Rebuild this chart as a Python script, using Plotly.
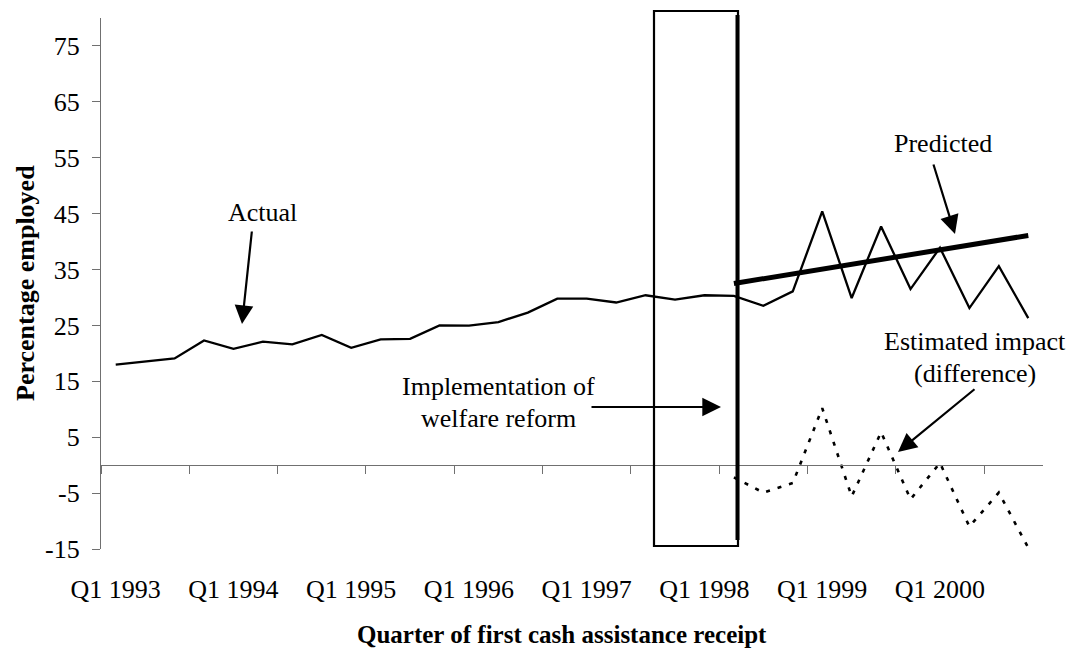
import plotly.graph_objects as go

# ---- data ----
quarters = [f"Q{q} {y}" for y in range(1993, 2001) for q in range(1, 5)]
actual = [18.0, 18.5, 19.1, 22.3, 20.8, 22.1, 21.6, 23.3, 21.0, 22.5, 22.6, 25.0,
          24.95, 25.6, 27.3, 29.8, 29.8, 29.1, 30.4, 29.6, 30.4, 30.3, 28.5, 31.1,
          45.4, 29.9, 42.7, 31.5, 38.9, 28.1, 35.6, 26.3]
pred_idx = [21, 31]
predicted = [32.5, 41.1]
diff_idx = list(range(21, 32))
difference = [-2.2, -4.9, -3.2, 10.2, -5.6, 5.9, -6.1, 0.4, -11.0, -4.9, -14.8]
label_idx = [0, 4, 8, 12, 16, 20, 24, 28]
label_text = ["Q1 1993", "Q1 1994", "Q1 1995", "Q1 1996", "Q1 1997", "Q1 1998", "Q1 1999", "Q1 2000"]
y_ticks = [-15, -5, 5, 15, 25, 35, 45, 55, 65, 75]

FONT = "Times New Roman, Liberation Serif, serif"
FS = 26
W, H = 1070, 649
ML, MR, MT, MB = 101, 27, 18, 100
YMIN, YMAX = -15, 80
XMIN, XMAX = -0.5, 31.5

def py2paper(py):
    return (H - MB - py) / (H - MT - MB)

def px2paper(px):
    return (px - ML) / (W - ML - MR)

def px2x(px):
    return XMIN + px2paper(px) * (XMAX - XMIN)

def py2y(py):
    return YMIN + py2paper(py) * (YMAX - YMIN)

xs = list(range(len(actual)))

fig = go.Figure()
fig.add_trace(go.Scatter(x=xs, y=actual, mode="lines",
                         line=dict(color="black", width=2.3), hoverinfo="skip"))
fig.add_trace(go.Scatter(x=pred_idx, y=predicted, mode="lines",
                         line=dict(color="black", width=5), hoverinfo="skip"))
fig.add_trace(go.Scatter(x=diff_idx, y=difference, mode="lines",
                         line=dict(color="black", width=2.6, dash="4px,8px"), hoverinfo="skip"))
# invisible trace for label axis
fig.add_trace(go.Scatter(x=[0], y=[0], xaxis="x2", mode="markers",
                         marker=dict(opacity=0), hoverinfo="skip"))

axis_color = "#707070"
fig.update_layout(
    width=W, height=H,
    margin=dict(l=ML, r=MR, t=MT, b=MB),
    paper_bgcolor="white", plot_bgcolor="white",
    showlegend=False,
    font=dict(family=FONT, size=FS, color="black"),
    xaxis=dict(range=[XMIN, XMAX], anchor="free", position=py2paper(465.2),
               showgrid=False, zeroline=False, showline=True, linecolor=axis_color, linewidth=1.3,
               ticks="outside", ticklen=8, tickcolor=axis_color, tickwidth=1.3,
               tickvals=[-0.5 + 3 * k for k in range(11)], showticklabels=False),
    xaxis2=dict(range=[XMIN, XMAX], overlaying="x", anchor="y", side="bottom",
                showgrid=False, zeroline=False, showline=False, ticks="",
                tickvals=label_idx, ticktext=label_text, ticklabelstandoff=22,
                tickfont=dict(family=FONT, size=FS, color="black")),
    yaxis=dict(range=[YMIN, YMAX], showgrid=False, zeroline=False,
               showline=True, linecolor=axis_color, linewidth=1.3,
               ticks="outside", ticklen=8, tickcolor=axis_color, tickwidth=1.3,
               tickvals=y_ticks, ticktext=[str(v) for v in y_ticks], ticklabelstandoff=7,
               tickfont=dict(family=FONT, size=FS, color="black")),
)

# box around implementation period and vertical reform line
fig.add_shape(type="rect", xref="x", yref="paper",
              x0=px2x(654), x1=px2x(738), y0=py2paper(546), y1=py2paper(11),
              line=dict(color="black", width=2.2), fillcolor="rgba(0,0,0,0)")
fig.add_shape(type="line", xref="x", yref="paper",
              x0=px2x(737.5), x1=px2x(737.5), y0=py2paper(540), y1=py2paper(15),
              line=dict(color="black", width=4))

def text(px, py, s, bold=False, angle=0, size=FS):
    fig.add_annotation(x=px2paper(px), y=py2paper(py), xref="paper", yref="paper",
                       text=f"<b>{s}</b>" if bold else s,
                       showarrow=False, textangle=angle, xanchor="center", yanchor="middle",
                       font=dict(family=FONT, size=size, color="black"))

def arrow(tx, ty, hx, hy):
    fig.add_annotation(x=px2x(hx), y=py2y(hy), ax=px2x(tx), ay=py2y(ty),
                       xref="x", yref="y", axref="x", ayref="y", text="",
                       showarrow=True, arrowhead=2, arrowsize=1.7, arrowwidth=2.2,
                       arrowcolor="black", standoff=0)

text(262, 213, "Actual")
arrow(252, 230, 242, 324)
text(943, 143, "Predicted")
arrow(933, 163, 955, 234)
text(975, 342, "Estimated impact")
text(975, 373, "(difference)")
arrow(976, 388, 898, 452)
text(498, 387, "Implementation of")
text(498, 418, "welfare reform")
arrow(590, 407, 721, 407)

text(25, 283, "Percentage employed", bold=True, angle=-90)
text(562, 634, "Quarter of first cash assistance receipt", bold=True, size=25)

fig.write_html("out.html", config={"displayModeBar": False},
               post_script="document.body.style.margin='0';document.body.style.overflow='hidden';")
